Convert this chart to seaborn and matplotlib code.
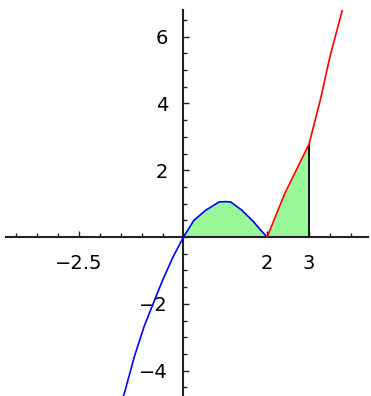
import numpy as np
import seaborn as sns
import matplotlib
matplotlib.use("Agg")
import matplotlib.pyplot as plt
from matplotlib.ticker import MultipleLocator, FixedLocator

# points
blue_x = [-1.5, -1.41, -1.17, -0.94, -0.7, -0.5, -0.25, 0.0, 0.25, 0.53, 0.85, 1.0, 1.13, 1.38, 1.66, 1.85, 2.0]
blue_y = [-5.0, -4.67, -3.57, -2.68, -1.92, -1.3, -0.6, 0.0, 0.5, 0.8, 1.05, 1.06, 1.05, 0.82, 0.48, 0.2, 0.0]
red_x = [2.0, 2.42, 3.0, 3.27, 3.5, 3.86]
red_y = [0.0, 1.3, 2.78, 4.1, 5.4, 7.1]
x_ticks = [-2.5, 2, 3]
x_labels = ["\u22122.5", "2", "3"]
y_ticks = [-4, -2, 2, 4, 6]
y_labels = ["\u22124", "\u22122", "2", "4", "6"]

sns.set_style("white")
plt.rcParams['font.family'] = ['DejaVu Sans']

fig = plt.figure(figsize=(3.71, 3.96), dpi=100)
ax = fig.add_axes([6/371, 0, 362/371, 386/396])
ax.set_xlim(-4.24, 4.41)
ax.set_ylim(-4.76, 6.8)

# shaded region between 0 and 3
fx = [x for x in blue_x if x >= 0] + [x for x in red_x if x <= 3][1:]
fy = [y for x, y in zip(blue_x, blue_y) if x >= 0] + [y for x, y in zip(red_x, red_y) if x <= 3][1:]
ax.fill_between(fx, 0, fy, color="#98f898", lw=0, zorder=1)
ax.vlines(red_x[2], 0, red_y[2], color="black", lw=1.3, zorder=3)

sns.lineplot(x=blue_x, y=blue_y, color="blue", lw=1.2, sort=False, ax=ax, zorder=4)
sns.lineplot(x=red_x, y=red_y, color="red", lw=1.2, sort=False, ax=ax, zorder=4)

# axes through the origin
for s in ["top", "right"]:
    ax.spines[s].set_visible(False)
ax.spines["left"].set_position(("data", 0))
ax.spines["bottom"].set_position(("data", 0))
for s in ["left", "bottom"]:
    ax.spines[s].set_linewidth(1.5)
    ax.spines[s].set_color("#222222")
    ax.spines[s].set_zorder(2)

ax.xaxis.set_major_locator(FixedLocator(x_ticks))
ax.set_xticklabels(x_labels)
ax.yaxis.set_major_locator(FixedLocator(y_ticks))
ax.set_yticklabels(y_labels)
ax.xaxis.set_minor_locator(MultipleLocator(0.5))
ax.yaxis.set_minor_locator(MultipleLocator(0.5))
ax.tick_params(which="both", bottom=True, left=True, direction="in", color="#222222")
ax.tick_params(which="major", length=4.5, width=1, labelsize=14, labelcolor="black")
ax.tick_params(which="minor", length=3, width=1)
ax.tick_params(axis="x", which="major", pad=12)
ax.tick_params(axis="y", which="major", pad=11)
ax.patch.set_alpha(0)

fig.savefig("out.png", dpi=100)
